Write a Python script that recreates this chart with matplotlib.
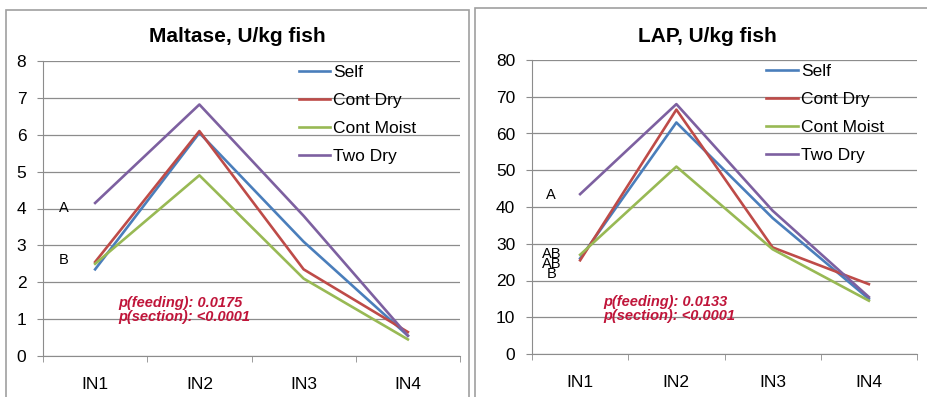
import matplotlib
matplotlib.use("Agg")
import matplotlib.pyplot as plt
from matplotlib.patches import Rectangle

# data
sections = ["IN1", "IN2", "IN3", "IN4"]
series_names = ["Self", "Cont Dry", "Cont Moist", "Two Dry"]
colors = ["#4A7EBB", "#BE4B48", "#98B954", "#7D60A0"]

maltase_self = [2.35, 6.05, 3.1, 0.55]
maltase_cont_dry = [2.55, 6.1, 2.35, 0.65]
maltase_cont_moist = [2.5, 4.9, 2.1, 0.45]
maltase_two_dry = [4.15, 6.82, 3.8, 0.55]

lap_self = [26.0, 63.0, 37.0, 15.0]
lap_cont_dry = [25.5, 66.5, 29.0, 19.0]
lap_cont_moist = [27.0, 51.0, 28.5, 14.5]
lap_two_dry = [43.5, 68.0, 39.0, 15.5]

# significance letters; a group of letters at one y is stacked in one text
maltase_letters = [["A"], ["B"]]
maltase_letter_y = [4.0, 2.6]
lap_letters = [["A"], ["AB", "AB", "B"]]
lap_letter_y = [43.3, 24.5]

maltase_p = "p(feeding): 0.0175\np(section): <0.0001"
lap_p = "p(feeding): 0.0133\np(section): <0.0001"

FONT = "Liberation Sans"
W, H = 927, 397
GRID = "#8C8C8C"

plt.rcParams["font.family"] = [FONT, "DejaVu Sans"]

fig = plt.figure(figsize=(W / 100, H / 100), dpi=100)


def px_axes(x0, x1, ytop, ybot):
    return fig.add_axes([x0 / W, (H - ybot) / H, (x1 - x0) / W, (ybot - ytop) / H])


def draw_panel(ax, series, ymax, ystep, title, letters, letter_y, ptext, p_pos, leg_x, title_x):
    x = list(range(len(sections)))
    for vals, name, c in zip(series, series_names, colors):
        ax.plot(x, vals, color=c, lw=1.9, label=name)
    ax.set_xlim(-0.5, len(sections) - 0.5)
    ax.set_ylim(0, ymax)
    ax.set_yticks(range(0, ymax + 1, ystep))
    ax.set_xticks(x)
    ax.set_xticklabels(sections)
    ax.set_xticks([i - 0.5 for i in range(len(sections) + 1)], minor=True)
    ax.tick_params(axis="x", which="major", length=0, pad=15, labelsize=12.5)
    ax.tick_params(axis="x", which="minor", length=4, color=GRID, direction="out")
    ax.tick_params(axis="y", length=4, color=GRID, labelsize=12.5, pad=8)
    ax.yaxis.grid(True, color=GRID, lw=0.9)
    ax.set_axisbelow(True)
    for s in ["top", "right"]:
        ax.spines[s].set_visible(False)
    ax.spines["left"].set_color(GRID)
    ax.spines["bottom"].set_color(GRID)
    ax.set_facecolor("none")

    for group, yy in zip(letters, letter_y):
        ax.text(-0.3, yy, "\n".join(group), ha="center", va="center",
                fontsize=10.5, linespacing=0.62, multialignment="center")

    ax.text(p_pos[0], p_pos[1], ptext, transform=ax.transAxes, ha="left", va="top",
            fontsize=10.5, color="#C0153A", fontweight="bold", fontstyle="italic",
            linespacing=1.0)

    ax.legend(loc="upper left", bbox_to_anchor=(leg_x, 1.0), frameon=False,
              handlelength=1.8, handletextpad=0.2, labelspacing=0.75,
              fontsize=12.5, borderaxespad=0.1, borderpad=0.1)
    fig.text(title_x / W, (H - 37) / H, title, ha="center", va="center",
             fontsize=15, fontweight="bold")


ax1 = px_axes(43, 460, 61, 356)
draw_panel(ax1, [maltase_self, maltase_cont_dry, maltase_cont_moist, maltase_two_dry],
           8, 1, "Maltase, U/kg fish", maltase_letters, maltase_letter_y,
           maltase_p, (0.18, 0.205), 0.605, 237)

ax2 = px_axes(532, 917, 60, 354)
draw_panel(ax2, [lap_self, lap_cont_dry, lap_cont_moist, lap_two_dry],
           80, 10, "LAP, U/kg fish", lap_letters, lap_letter_y,
           lap_p, (0.184, 0.2), 0.6, 707)

# chart frames
fig.patches.append(Rectangle((6 / W, -0.02), 463 / W, (H - 10) / H + 0.02,
                             transform=fig.transFigure, fill=False, ec="#A0A0A0", lw=1.2))
fig.patches.append(Rectangle((475 / W, -0.02), 460 / W, (H - 8) / H + 0.02,
                             transform=fig.transFigure, fill=False, ec="#A0A0A0", lw=1.2))

fig.savefig("out.png", dpi=100)
